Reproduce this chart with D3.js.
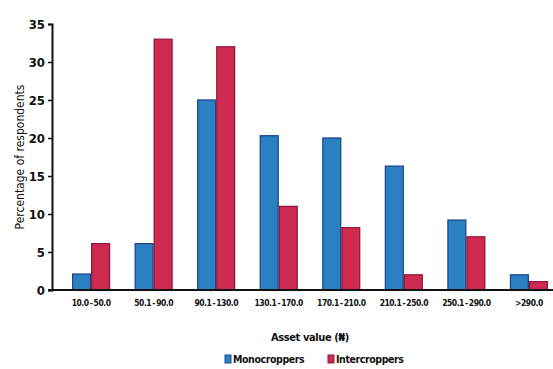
<!DOCTYPE html>
<html>
<head>
<meta charset="utf-8">
<script src="https://cdn.jsdelivr.net/npm/d3@7"></script>
<style>
  body { margin: 0; background: #fff; }
  text { font-family: "Liberation Sans Narrow", "Arial Narrow", "DejaVu Sans Condensed", sans-serif; font-weight: bold; }
</style>
</head>
<body>
<div id="vis"></div>
<script>
// chart values
const categories = ["10.0 - 50.0", "50.1 - 90.0", "90.1 - 130.0", "130.1 - 170.0", "170.1 - 210.0", "210.1 - 250.0", "250.1 - 290.0", ">290.0"];
const seriesNames = ["Monocroppers", "Intercroppers"];
const monocroppers = [2.1, 6.1, 25, 20.3, 20, 16.3, 9.2, 2];
const intercroppers = [6.1, 33, 32, 11, 8.2, 2, 7, 1.1];
const yTicks = [0, 5, 10, 15, 20, 25, 30, 35];

const W = 553, H = 369;
const plotLeft = 52, plotBase = 290, plotTop = 24;
const colors = { Monocroppers: "#2b80c2", Intercroppers: "#cf2a52" };
const strokes = { Monocroppers: "#1b4890", Intercroppers: "#931a38" };

const svg = d3.select("#vis").append("svg")
  .attr("width", W)
  .attr("height", H);

const x = d3.scaleBand()
  .domain(categories)
  .range([plotLeft, 568])
  .paddingInner(0.41)
  .paddingOuter(0.33);

const x1 = d3.scaleBand()
  .domain(seriesNames)
  .range([0, x.bandwidth()])
  .paddingInner(0.06);

const y = d3.scaleLinear()
  .domain([0, 35])
  .range([plotBase, plotTop]);

const rows = categories.map((c, i) => ({
  cat: c,
  vals: [
    { key: "Monocroppers", v: monocroppers[i] },
    { key: "Intercroppers", v: intercroppers[i] }
  ]
}));

// bars
svg.append("g")
  .selectAll("g")
  .data(rows)
  .join("g")
  .attr("transform", d => `translate(${x(d.cat)},0)`)
  .selectAll("rect")
  .data(d => d.vals)
  .join("rect")
  .attr("x", d => x1(d.key))
  .attr("y", d => y(d.v))
  .attr("width", x1.bandwidth())
  .attr("height", d => plotBase - y(d.v))
  .attr("fill", d => colors[d.key])
  .attr("stroke", d => strokes[d.key])
  .attr("stroke-width", 1.3);

// y axis
const yAxis = svg.append("g")
  .attr("transform", `translate(${plotLeft},0)`)
  .call(d3.axisLeft(y).tickValues(yTicks).tickSize(4).tickPadding(3));
yAxis.select(".domain").attr("stroke", "#111").attr("stroke-width", 2);
yAxis.selectAll(".tick line").attr("stroke", "#111").attr("stroke-width", 1.5);
yAxis.selectAll(".tick text")
  .attr("font-size", 13)
  .attr("fill", "#111");

// x axis
const xAxis = svg.append("g")
  .attr("transform", `translate(0,${plotBase})`)
  .call(d3.axisBottom(x).tickSize(0).tickPadding(10));
xAxis.select(".domain").remove();
xAxis.selectAll(".tick text")
  .attr("font-size", 8.5)
  .attr("fill", "#111")
  .style("letter-spacing", "-0.5px")
  .style("word-spacing", "-1px");
svg.append("line")
  .attr("x1", plotLeft - 4).attr("x2", W)
  .attr("y1", plotBase).attr("y2", plotBase)
  .attr("stroke", "#111")
  .attr("stroke-width", 2);

// axis titles
svg.append("text")
  .attr("transform", `translate(24,157) rotate(-90)`)
  .attr("text-anchor", "middle")
  .attr("font-size", 12)
  .style("font-weight", "normal")
  .attr("fill", "#111")
  .text("Percentage of respondents");

svg.append("text")
  .attr("x", 310)
  .attr("y", 341)
  .attr("text-anchor", "middle")
  .attr("font-size", 11)
  .attr("fill", "#111")
  .style("letter-spacing", "-0.4px")
  .text("Asset value (\u20A6)");

// legend
const legend = svg.append("g")
  .attr("transform", "translate(225,363)");
const legX = [0, 103];
seriesNames.forEach((s, i) => {
  const g = legend.append("g").attr("transform", `translate(${legX[i]},0)`);
  g.append("rect")
    .attr("x", 0).attr("y", -8)
    .attr("width", 6).attr("height", 8)
    .attr("fill", colors[s])
    .attr("stroke", strokes[s]);
  g.append("text")
    .attr("x", 8).attr("y", 0)
    .attr("font-size", 10.5)
    .attr("fill", "#111")
    .style("letter-spacing", "-0.4px")
    .text(s);
});
</script>
</body>
</html>
